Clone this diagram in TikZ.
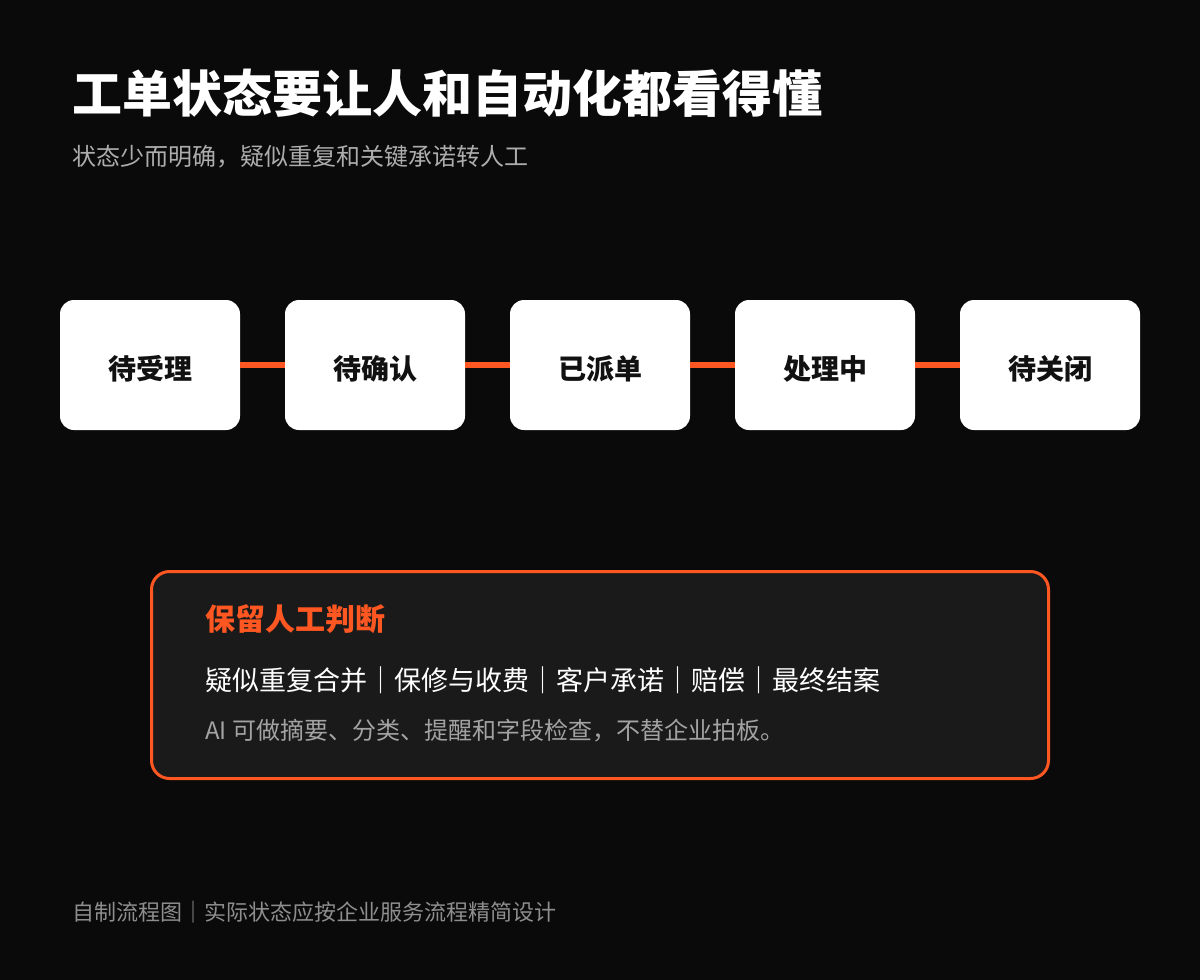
\documentclass[tikz,border=0pt]{standalone}
\usepackage{fontspec}
\setmainfont{Noto Sans CJK SC}
\usetikzlibrary{positioning}
\definecolor{bgdark}{HTML}{0A0A0A}
\definecolor{cardgray}{HTML}{1A1A1A}
\definecolor{accent}{HTML}{FF5722}
\definecolor{subgray}{HTML}{ADADAD}
\definecolor{notegray}{HTML}{A3A3A3}
\definecolor{footgray}{HTML}{8E8E8E}
\definecolor{inktext}{HTML}{111111}
\tikzset{
  heading/.style={anchor=west, inner sep=0pt, text=white, font=\fontsize{50}{56}\selectfont\bfseries},
  subhead/.style={anchor=west, inner sep=0pt, text=subgray, font=\fontsize{24}{28}\selectfont},
  state/.style={fill=white, rounded corners=14pt, minimum width=180pt, minimum height=130pt,
    inner sep=0pt, outer sep=0pt, text height=32pt, text depth=3pt, text=inktext,
    font=\fontsize{28}{32}\selectfont\bfseries},
  link/.style={draw=accent, line width=6.5pt},
  card/.style={draw=accent, line width=3pt, fill=cardgray, rounded corners=18pt,
    minimum width=897pt, minimum height=207pt},
  cardhead/.style={anchor=west, inner sep=0pt, text=accent, font=\fontsize{30}{34}\selectfont\bfseries},
  cardline/.style={anchor=west, inner sep=0pt, text=white, font=\fontsize{27}{30}\selectfont},
  cardnote/.style={anchor=west, inner sep=0pt, text=notegray, font=\fontsize{24}{28}\selectfont},
  footnote/.style={anchor=west, inner sep=0pt, text=footgray, font=\fontsize{22}{26}\selectfont}
}
\begin{document}
\begin{tikzpicture}[x=1pt,y=-1pt]
\fill[bgdark] (0,0) rectangle (1200,980);
\useasboundingbox (0,0) rectangle (1200,980);
% title
\node[heading] (title) at (72,93) {工单状态要让人和自动化都看得懂};
\node[subhead] (subtitle) at (72,157) {状态少而明确，疑似重复和关键承诺转人工};
% states
\node[state] (accept) at (150,365) {待受理};
\node[state, right=45pt of accept] (confirm) {待确认};
\node[state, right=45pt of confirm] (dispatch) {已派单};
\node[state, right=45pt of dispatch] (process) {处理中};
\node[state, right=45pt of process] (close) {待关闭};
\foreach \a/\b in {accept/confirm, confirm/dispatch, dispatch/process, process/close}
  \draw[link] (\a) -- (\b);
% manual review
\node[card] (review) at (600,675) {};
\node[cardhead] (reviewhead) at (205,619) {保留人工判断};
\node[cardline] (reviewitems) at (205,680) {疑似重复合并｜保修与收费｜客户承诺｜赔偿｜最终结案};
\node[cardnote] (reviewnote) at (205,731) {AI 可做摘要、分类、提醒和字段检查，不替企业拍板。};
% footer
\node[footnote] (source) at (72,912) {自制流程图｜实际状态应按企业服务流程精简设计};
\end{tikzpicture}
\end{document}
